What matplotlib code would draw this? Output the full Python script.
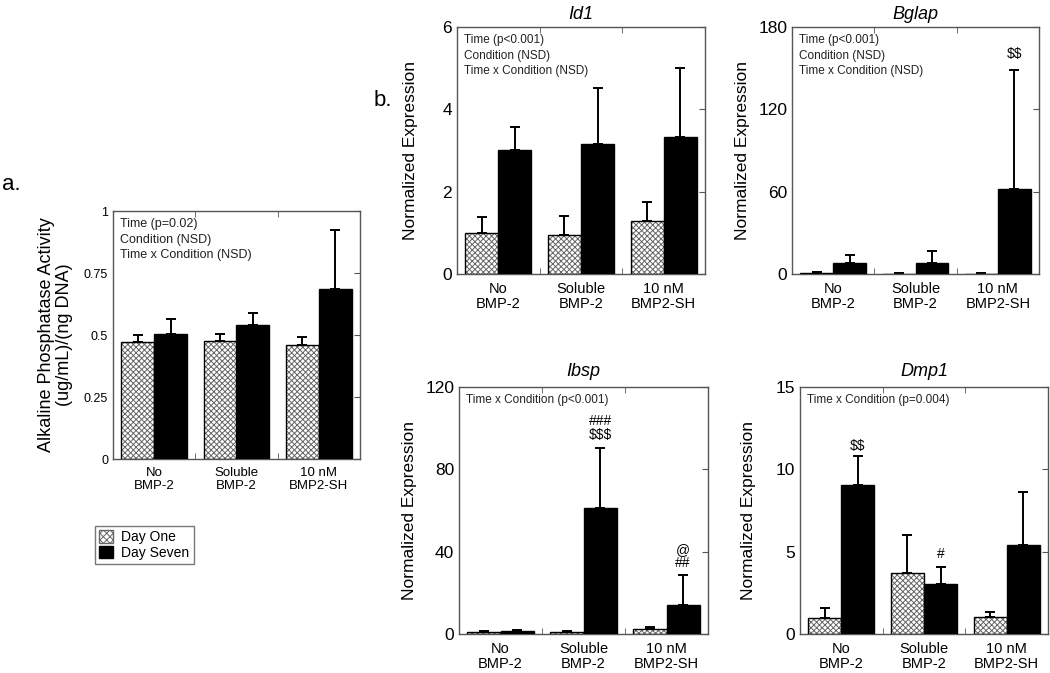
import numpy as np
import matplotlib
matplotlib.use("Agg")
import matplotlib.pyplot as plt
from matplotlib.patches import Patch

plt.rcParams['font.family'] = ['Liberation Sans', 'DejaVu Sans']
plt.rcParams['text.parse_math'] = False
plt.rcParams['hatch.linewidth'] = 0.7

conditions = ["No\nBMP-2", "Soluble\nBMP-2", "10 nM\nBMP2-SH"]
series = ["Day One", "Day Seven"]

# panel a: alkaline phosphatase
alp_day1 = [0.47, 0.475, 0.46]
alp_day1_err = [0.028, 0.03, 0.032]
alp_day7 = [0.505, 0.54, 0.685]
alp_day7_err = [0.06, 0.05, 0.24]

# panel b: gene expression
id1_day1 = [1.0, 0.95, 1.29]
id1_day1_err = [0.38, 0.46, 0.47]
id1_day7 = [3.01, 3.16, 3.34]
id1_day7_err = [0.57, 1.36, 1.66]

bglap_day1 = [1.0, 0.3, 0.3]
bglap_day1_err = [0.6, 0.7, 0.7]
bglap_day7 = [8.3, 8.3, 62.2]
bglap_day7_err = [5.4, 8.5, 86.3]

ibsp_day1 = [0.9, 0.8, 2.4]
ibsp_day1_err = [0.6, 0.5, 0.8]
ibsp_day7 = [1.4, 61.3, 14.1]
ibsp_day7_err = [0.6, 29.2, 14.8]

dmp1_day1 = [0.98, 3.70, 1.04]
dmp1_day1_err = [0.59, 2.32, 0.30]
dmp1_day7 = [9.07, 3.03, 5.39]
dmp1_day7_err = [1.73, 1.03, 3.21]

W, H = 1050, 673
fig = plt.figure(figsize=(W / 100, H / 100), dpi=100)


def make_axes(x0, y0, x1, y1):
    return fig.add_axes([x0 / W, 1 - y1 / H, (x1 - x0) / W, (y1 - y0) / H])


def hatched_bar(ax, x, h, width):
    ax.bar(x, h, width, color="white", edgecolor="#666666", hatch="xxxxxx",
           linewidth=0, zorder=2)
    ax.bar(x, h, width, fill=False, edgecolor="black", linewidth=1, zorder=3)


def panel(ax, d1, e1, d7, e7, ymax, yticks, stats, tick_fs, lab_fs, stat_fs):
    x = np.arange(len(conditions))
    w = 0.4
    hatched_bar(ax, x - w / 2, d1, w)
    ax.bar(x + w / 2, d7, w, color="black", edgecolor="black", linewidth=1, zorder=3)
    ax.errorbar(x - w / 2, d1, yerr=[np.zeros(3), e1], fmt="none", ecolor="black",
                elinewidth=1.4, capsize=3.5, capthick=1.4, zorder=1)
    ax.errorbar(x + w / 2, d7, yerr=[np.zeros(3), e7], fmt="none", ecolor="black",
                elinewidth=1.4, capsize=3.5, capthick=1.4, zorder=1)
    ax.set_xlim(-0.5, 2.5)
    ax.set_ylim(0, ymax)
    ax.set_yticks(yticks)
    ax.set_xticks(x)
    ax.set_xticklabels(conditions, fontsize=lab_fs, linespacing=1.1)
    ax.set_xticks([0.5, 1.5], minor=True)
    ax.tick_params(axis="x", which="major", length=0, pad=6)
    ax.tick_params(axis="x", which="minor", direction="in", length=4,
                   top=True, bottom=True, color="#555555")
    ax.tick_params(axis="y", direction="in", length=4, right=True, left=False,
                   labelsize=tick_fs, color="#555555")
    for s in ax.spines.values():
        s.set_color("#555555")
        s.set_linewidth(1)
    ax.text(0.03, 0.97, stats, transform=ax.transAxes, ha="left", va="top",
            fontsize=stat_fs, color="#222222", linespacing=1.35)
    return x, w


# panel a
ax_a = make_axes(113, 211, 360, 459)
panel(ax_a, alp_day1, alp_day1_err, alp_day7, alp_day7_err, 1,
      [0, 0.25, 0.5, 0.75, 1],
      "Time (p=0.02)\nCondition (NSD)\nTime x Condition (NSD)", 9, 9.5, 9)
ax_a.set_yticklabels(["0", "0.25", "0.5", "0.75", "1"])
ax_a.set_ylabel("Alkaline Phosphatase Activity\n(ug/mL)/(ng DNA)", fontsize=13,
                linespacing=1.05, labelpad=8)
fig.text(2 / W, 1 - 185 / H, "a.", fontsize=16, va="center", ha="left")

legend_handles = [Patch(facecolor="white", edgecolor="#666666", hatch="xxxxx", label=series[0]),
                  Patch(facecolor="black", edgecolor="black", label=series[1])]
fig.legend(handles=legend_handles, loc="upper left",
           bbox_to_anchor=(88 / W, 1 - 519 / H), fontsize=10, frameon=True,
           fancybox=False, edgecolor="#555555", handlelength=1, handleheight=1,
           handletextpad=0.6, borderpad=0.3, labelspacing=0.1)

fig.text(374 / W, 1 - 100 / H, "b.", fontsize=16, va="center", ha="left")

# Id1
ax1 = make_axes(457, 27, 705, 274)
panel(ax1, id1_day1, id1_day1_err, id1_day7, id1_day7_err, 6, [0, 2, 4, 6],
      "Time (p<0.001)\nCondition (NSD)\nTime x Condition (NSD)", 12.5, 10.5, 8.5)
ax1.set_title("Id1", style="italic", fontsize=13, pad=6)
ax1.set_ylabel("Normalized Expression", fontsize=12.5, labelpad=18)

# Bglap
ax2 = make_axes(792, 27, 1039, 274)
x, w = panel(ax2, bglap_day1, bglap_day1_err, bglap_day7, bglap_day7_err, 180,
             [0, 60, 120, 180],
             "Time (p<0.001)\nCondition (NSD)\nTime x Condition (NSD)", 12.5, 10.5, 8.5)
ax2.set_title("Bglap", style="italic", fontsize=13, pad=6)
ax2.set_ylabel("Normalized Expression", fontsize=12.5, labelpad=6)
ax2.text(x[2] + w / 2, 155, "$$", ha="center", va="bottom", fontsize=10)

# Ibsp
ax3 = make_axes(459, 387, 708, 634)
x, w = panel(ax3, ibsp_day1, ibsp_day1_err, ibsp_day7, ibsp_day7_err, 120,
             [0, 40, 80, 120], "Time x Condition (p<0.001)", 12.5, 10.5, 8.5)
ax3.set_title("Ibsp", style="italic", fontsize=13, pad=8)
ax3.set_ylabel("Normalized Expression", fontsize=12.5, labelpad=6)
ax3.text(x[1] + w / 2, 93.5, "###\n$$$", ha="center", va="bottom", fontsize=10,
         linespacing=0.95)
ax3.text(x[2] + w / 2, 31, "@\n##", ha="center", va="bottom", fontsize=10,
         linespacing=0.95)

# Dmp1
ax4 = make_axes(800, 387, 1048, 634)
x, w = panel(ax4, dmp1_day1, dmp1_day1_err, dmp1_day7, dmp1_day7_err, 15,
             [0, 5, 10, 15], "Time x Condition (p=0.004)", 12.5, 10.5, 8.5)
ax4.set_title("Dmp1", style="italic", fontsize=13, pad=8)
ax4.set_ylabel("Normalized Expression", fontsize=12.5, labelpad=14)
ax4.text(x[0] + w / 2, 11.0, "$$", ha="center", va="bottom", fontsize=10)
ax4.text(x[1] + w / 2, 4.45, "#", ha="center", va="bottom", fontsize=10)

fig.savefig("out.png", dpi=100)
